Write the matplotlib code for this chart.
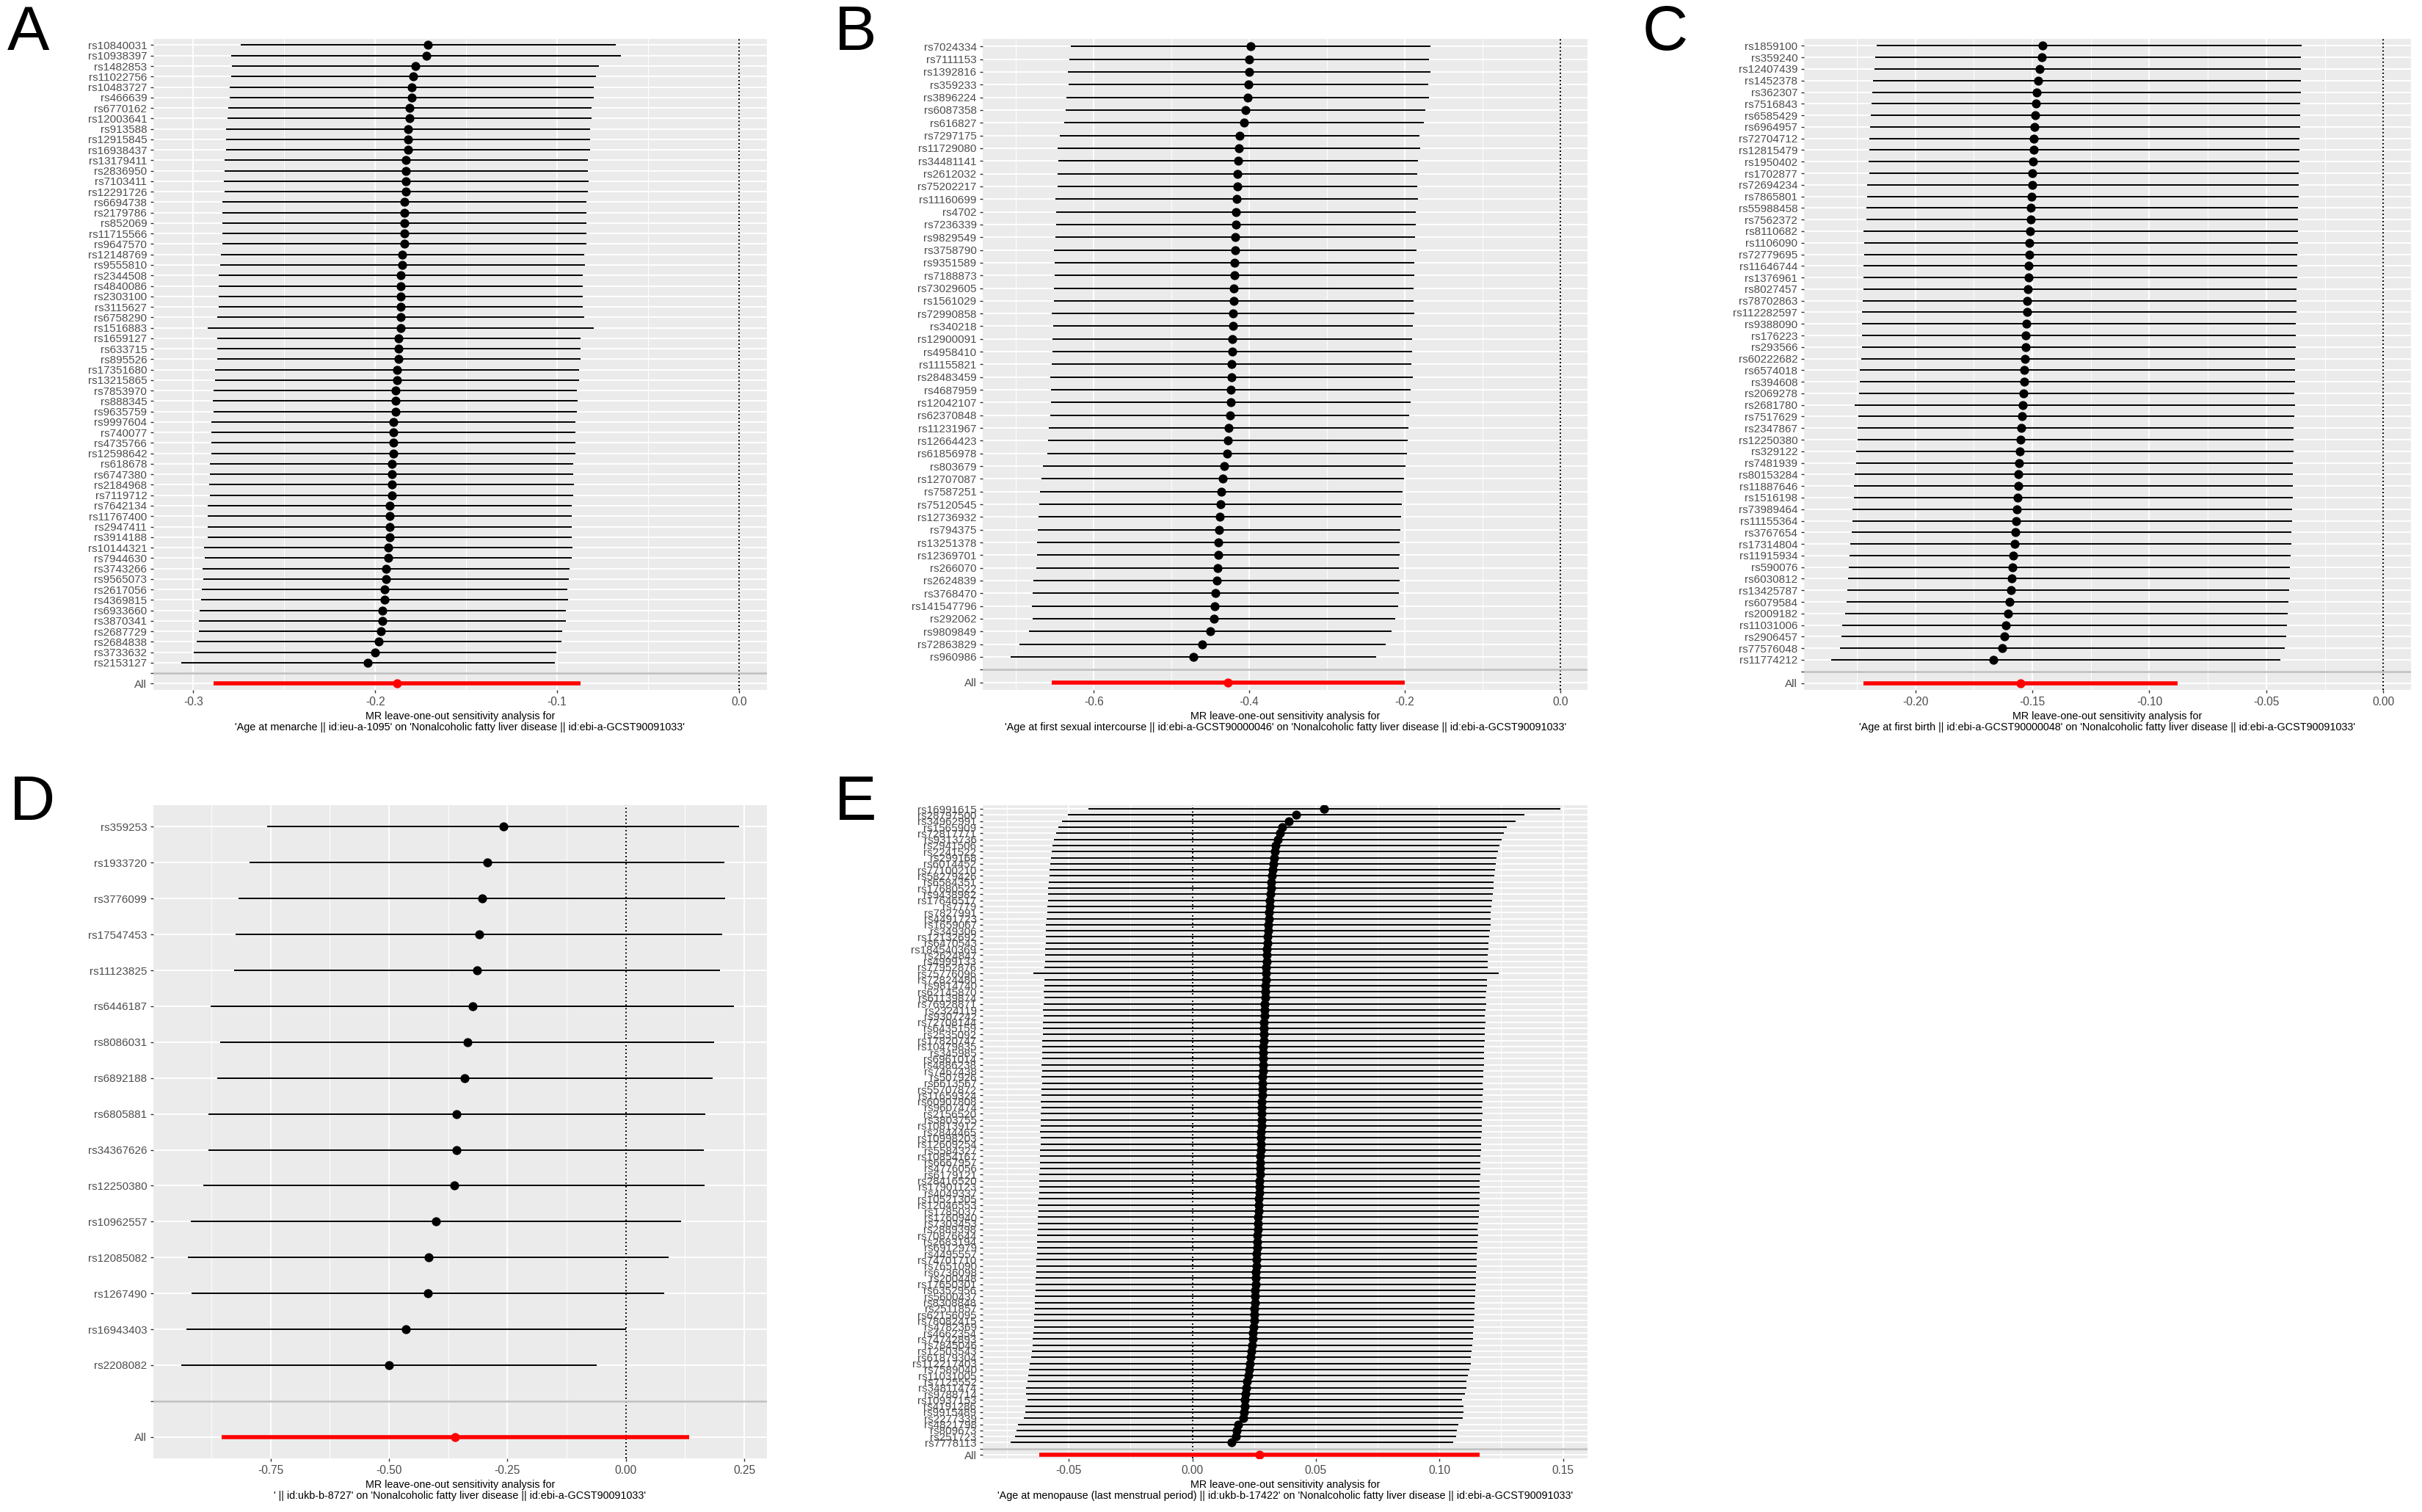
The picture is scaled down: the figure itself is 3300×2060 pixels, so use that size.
import matplotlib
matplotlib.use("Agg")
import matplotlib.pyplot as plt
from matplotlib.ticker import MultipleLocator, FuncFormatter
import numpy as np

plt.rcParams['font.family'] = ['Liberation Sans', 'DejaVu Sans']
plt.rcParams['axes.unicode_minus'] = False

outcome = "'Nonalcoholic fatty liver disease || id:ebi-a-GCST90091033'"

# ---- panel A: age at menarche (top row first) ----
exposure_a = "'Age at menarche || id:ieu-a-1095'"
snps_a = ["rs10840031", "rs10938397", "rs1482853", "rs11022756", "rs10483727", "rs466639",
          "rs6770162", "rs12003641", "rs913588", "rs12915845", "rs16938437", "rs13179411",
          "rs2836950", "rs7103411", "rs12291726", "rs6694738", "rs2179786", "rs852069",
          "rs11715566", "rs9647570", "rs12148769", "rs9555810", "rs2344508", "rs4840086",
          "rs2303100", "rs3115627", "rs6758290", "rs1516883", "rs1659127", "rs633715",
          "rs895526", "rs17351680", "rs13215865", "rs7853970", "rs888345", "rs9635759",
          "rs9997604", "rs740077", "rs4735766", "rs12598642", "rs618678", "rs6747380",
          "rs2184968", "rs7119712", "rs7642134", "rs11767400", "rs2947411", "rs3914188",
          "rs10144321", "rs7944630", "rs3743266", "rs9565073", "rs2617056", "rs4369815",
          "rs6933660", "rs3870341", "rs2687729", "rs2684838", "rs3733632", "rs2153127"]
b_a = [-0.171, -0.172, -0.178, -0.179, -0.180, -0.180, -0.181, -0.181, -0.182, -0.182,
       -0.182, -0.183, -0.183, -0.183, -0.183, -0.184, -0.184, -0.184, -0.184, -0.184,
       -0.185, -0.185, -0.186, -0.186, -0.186, -0.186, -0.186, -0.186, -0.187, -0.187,
       -0.187, -0.188, -0.188, -0.189, -0.189, -0.189, -0.190, -0.190, -0.190, -0.190,
       -0.191, -0.191, -0.191, -0.191, -0.192, -0.192, -0.192, -0.192, -0.193, -0.193,
       -0.194, -0.194, -0.195, -0.195, -0.196, -0.196, -0.197, -0.198, -0.200, -0.204]
se_a = [0.0526, 0.0546, 0.0515, 0.0512, 0.0511, 0.0511, 0.0510, 0.0511, 0.0510, 0.0510,
        0.0511, 0.0510, 0.0510, 0.0511, 0.0510, 0.0510, 0.0510, 0.0511, 0.0510, 0.0510,
        0.0510, 0.0511, 0.0510, 0.0510, 0.0510, 0.0511, 0.0515, 0.0541, 0.0510, 0.0510,
        0.0510, 0.0511, 0.0510, 0.0510, 0.0511, 0.0510, 0.0510, 0.0510, 0.0511, 0.0510,
        0.0510, 0.0510, 0.0511, 0.0510, 0.0510, 0.0510, 0.0511, 0.0510, 0.0517, 0.0515,
        0.0515, 0.0512, 0.0513, 0.0515, 0.0514, 0.0515, 0.0510, 0.0512, 0.0509, 0.0524]
all_a = (-0.188, 0.0515)

# ---- panel B: age at first sexual intercourse ----
exposure_b = "'Age at first sexual intercourse || id:ebi-a-GCST90000046'"
snps_b = ["rs7024334", "rs7111153", "rs1392816", "rs359233", "rs3896224", "rs6087358",
          "rs616827", "rs7297175", "rs11729080", "rs34481141", "rs2612032", "rs75202217",
          "rs11160699", "rs4702", "rs7236339", "rs9829549", "rs3758790", "rs9351589",
          "rs7188873", "rs73029605", "rs1561029", "rs72990858", "rs340218", "rs12900091",
          "rs4958410", "rs11155821", "rs28483459", "rs4687959", "rs12042107", "rs62370848",
          "rs11231967", "rs12664423", "rs61856978", "rs803679", "rs12707087", "rs7587251",
          "rs75120545", "rs12736932", "rs794375", "rs13251378", "rs12369701", "rs266070",
          "rs2624839", "rs3768470", "rs141547796", "rs292062", "rs9809849", "rs72863829",
          "rs960986"]
b_b = [-0.398, -0.400, -0.400, -0.401, -0.402, -0.405, -0.407, -0.412, -0.413, -0.414,
       -0.415, -0.415, -0.416, -0.417, -0.417, -0.418, -0.418, -0.419, -0.419, -0.420,
       -0.420, -0.421, -0.421, -0.422, -0.422, -0.423, -0.423, -0.424, -0.424, -0.425,
       -0.426, -0.427, -0.428, -0.432, -0.434, -0.436, -0.437, -0.438, -0.439, -0.440,
       -0.440, -0.441, -0.442, -0.443, -0.444, -0.445, -0.450, -0.460, -0.472]
se_b = [0.118, 0.118, 0.119, 0.118, 0.119, 0.118, 0.118, 0.118, 0.119, 0.118,
        0.118, 0.118, 0.119, 0.118, 0.118, 0.118, 0.119, 0.118, 0.118, 0.118,
        0.118, 0.119, 0.118, 0.118, 0.118, 0.118, 0.119, 0.118, 0.118, 0.118,
        0.118, 0.118, 0.118, 0.119, 0.119, 0.119, 0.119, 0.119, 0.119, 0.119,
        0.119, 0.119, 0.120, 0.120, 0.120, 0.119, 0.119, 0.120, 0.120]
all_b = (-0.427, 0.116)

# ---- panel C: age at first birth (interval ends read directly) ----
exposure_c = "'Age at first birth || id:ebi-a-GCST90000048'"
snps_c = ["rs1859100", "rs359240", "rs12407439", "rs1452378", "rs362307", "rs7516843",
          "rs6585429", "rs6964957", "rs72704712", "rs12815479", "rs1950402", "rs1702877",
          "rs72694234", "rs7865801", "rs55988458", "rs7562372", "rs8110682", "rs1106090",
          "rs72779695", "rs11646744", "rs1376961", "rs8027457", "rs78702863", "rs112282597",
          "rs9388090", "rs176223", "rs293566", "rs60222682", "rs6574018", "rs394608",
          "rs2069278", "rs2681780", "rs7517629", "rs2347867", "rs12250380", "rs329122",
          "rs7481939", "rs80153284", "rs11887646", "rs1516198", "rs73989464", "rs11155364",
          "rs3767654", "rs17314804", "rs11915934", "rs590076", "rs6030812", "rs13425787",
          "rs6079584", "rs2009182", "rs11031006", "rs2906457", "rs77576048", "rs11774212"]
b_c = [-0.1455, -0.1460, -0.1468, -0.1475, -0.1480, -0.1484, -0.1487, -0.1490, -0.1493,
       -0.1495, -0.1497, -0.1499, -0.1501, -0.1503, -0.1505, -0.1507, -0.1509, -0.1511,
       -0.1513, -0.1515, -0.1517, -0.1519, -0.1521, -0.1523, -0.1525, -0.1527, -0.1529,
       -0.1531, -0.1533, -0.1535, -0.1538, -0.1540, -0.1543, -0.1546, -0.1549, -0.1552,
       -0.1555, -0.1558, -0.1561, -0.1564, -0.1567, -0.1570, -0.1573, -0.1576, -0.1580,
       -0.1584, -0.1588, -0.1592, -0.1597, -0.1603, -0.1612, -0.1620, -0.1630, -0.1665]
lo_c = [-0.2165, -0.2170, -0.2175, -0.2180, -0.2183, -0.2186, -0.2189, -0.2192, -0.2195,
        -0.2197, -0.2200, -0.2195, -0.2205, -0.2205, -0.2210, -0.2210, -0.2222, -0.2218,
        -0.2218, -0.2222, -0.2222, -0.2222, -0.2225, -0.2228, -0.2228, -0.2228, -0.2228,
        -0.2231, -0.2238, -0.2238, -0.2240, -0.2259, -0.2243, -0.2248, -0.2248, -0.2252,
        -0.2254, -0.2259, -0.2262, -0.2262, -0.2267, -0.2267, -0.2273, -0.2277, -0.2280,
        -0.2285, -0.2287, -0.2289, -0.2292, -0.2300, -0.2312, -0.2316, -0.2321, -0.2358]
up_c = [-0.0350, -0.0351, -0.0352, -0.0352, -0.0353, -0.0354, -0.0355, -0.0356, -0.0357,
        -0.0358, -0.0359, -0.0360, -0.0361, -0.0362, -0.0363, -0.0364, -0.0365, -0.0366,
        -0.0367, -0.0368, -0.0369, -0.0370, -0.0371, -0.0372, -0.0373, -0.0374, -0.0375,
        -0.0376, -0.0377, -0.0378, -0.0379, -0.0376, -0.0381, -0.0382, -0.0383, -0.0384,
        -0.0385, -0.0386, -0.0387, -0.0388, -0.0389, -0.0390, -0.0392, -0.0394, -0.0396,
        -0.0398, -0.0400, -0.0402, -0.0404, -0.0407, -0.0411, -0.0415, -0.0420, -0.0440]
all_c = (-0.155, -0.222, -0.088)

# ---- panel D ----
exposure_d = "' || id:ukb-b-8727'"
snps_d = ["rs359253", "rs1933720", "rs3776099", "rs17547453", "rs11123825", "rs6446187",
          "rs8086031", "rs6892188", "rs6805881", "rs34367626", "rs12250380", "rs10962557",
          "rs12085082", "rs1267490", "rs16943403", "rs2208082"]
b_d = [-0.259, -0.293, -0.304, -0.310, -0.314, -0.324, -0.335, -0.340, -0.357, -0.358,
       -0.363, -0.401, -0.417, -0.418, -0.464, -0.500]
se_d = [0.254, 0.256, 0.262, 0.262, 0.262, 0.282, 0.266, 0.267, 0.268, 0.267,
        0.270, 0.264, 0.259, 0.255, 0.237, 0.224]
all_d = (-0.360, 0.252)

# ---- panel E: age at menopause ----
exposure_e = "'Age at menopause (last menstrual period) || id:ukb-b-17422'"
snps_e = ["rs16991615", "rs28797500", "rs34962991", "rs1565909", "rs72817771", "rs9313736",
          "rs2941506", "rs2241522", "rs299168", "rs6014452", "rs77100210", "rs58279426",
          "rs6584351", "rs17680522", "rs9438982", "rs17646517", "rs7779", "rs7827991",
          "rs4491723", "rs1659067", "rs349306", "rs12132692", "rs6470543", "rs184540369",
          "rs2624847", "rs4999133", "rs77952876", "rs75776096", "rs72824480", "rs9814740",
          "rs62145870", "rs61139874", "rs76928871", "rs2324119", "rs9307242", "rs72708144",
          "rs6435159", "rs2535092", "rs17820747", "rs10479835", "rs345985", "rs6961014",
          "rs4886238", "rs7467438", "rs507926", "rs6613567", "rs55707872", "rs11659324",
          "rs60907808", "rs9607474", "rs2156520", "rs3803755", "rs10813912", "rs2844465",
          "rs10998203", "rs12609254", "rs5584327", "rs10854167", "rs6667957", "rs4776056",
          "rs6179121", "rs28416520", "rs17901123", "rs4049337", "rs10521305", "rs12046553",
          "rs1785037", "rs1760940", "rs7303453", "rs2889398", "rs70876644", "rs2683194",
          "rs6912979", "rs4495557", "rs74701710", "rs7651090", "rs6736098", "rs200448",
          "rs17650301", "rs6352956", "rs5600437", "rs8308848", "rs2511857", "rs62156095",
          "rs78082415", "rs4782369", "rs4662354", "rs74742893", "rs7845046", "rs12503543",
          "rs61879304", "rs112217403", "rs7589040", "rs11031005", "rs7125552", "rs34811474",
          "rs9788714", "rs10937153", "rs4191286", "rs9915489", "rs2277339", "rs4821798",
          "rs809673", "rs251723", "rs7778113"]
b_e = [0.0534, 0.0420, 0.0390, 0.0365, 0.0355, 0.0345, 0.0338, 0.0333, 0.0330, 0.0327,
       0.0324, 0.0322, 0.0320, 0.0318, 0.0316, 0.0314, 0.0312, 0.0310, 0.0309, 0.0308,
       0.0306, 0.0305, 0.0304, 0.0302, 0.0301, 0.0300, 0.0299, 0.0298, 0.0297, 0.0296,
       0.0295, 0.0294, 0.0293, 0.0292, 0.0291, 0.0290, 0.0289, 0.0289, 0.0288, 0.0287,
       0.0287, 0.0286, 0.0285, 0.0285, 0.0284, 0.0283, 0.0283, 0.0282, 0.0281, 0.0281,
       0.0280, 0.0279, 0.0279, 0.0278, 0.0277, 0.0277, 0.0276, 0.0275, 0.0275, 0.0274,
       0.0273, 0.0272, 0.0272, 0.0271, 0.0270, 0.0269, 0.0268, 0.0267, 0.0266, 0.0265,
       0.0264, 0.0263, 0.0262, 0.0261, 0.0260, 0.0259, 0.0258, 0.0257, 0.0256, 0.0255,
       0.0254, 0.0253, 0.0252, 0.0251, 0.0250, 0.0248, 0.0246, 0.0244, 0.0242, 0.0240,
       0.0237, 0.0234, 0.0230, 0.0226, 0.0222, 0.0218, 0.0215, 0.0212, 0.0211, 0.0210,
       0.0205, 0.0186, 0.0180, 0.0175, 0.0159]
se_e = [0.0487, 0.0472, 0.0468, 0.0463, 0.0462, 0.0462, 0.0461, 0.0461, 0.0460, 0.0460,
        0.0460, 0.0459, 0.0459, 0.0460, 0.0459, 0.0458, 0.0459, 0.0458, 0.0458, 0.0459,
        0.0458, 0.0458, 0.0457, 0.0458, 0.0457, 0.0457, 0.0458, 0.0480, 0.0457, 0.0457,
        0.0457, 0.0456, 0.0457, 0.0457, 0.0456, 0.0457, 0.0456, 0.0456, 0.0457, 0.0456,
        0.0456, 0.0456, 0.0457, 0.0456, 0.0456, 0.0455, 0.0456, 0.0456, 0.0456, 0.0455,
        0.0456, 0.0456, 0.0455, 0.0456, 0.0455, 0.0455, 0.0456, 0.0455, 0.0455, 0.0455,
        0.0456, 0.0455, 0.0455, 0.0455, 0.0455, 0.0456, 0.0455, 0.0455, 0.0455, 0.0454,
        0.0455, 0.0455, 0.0455, 0.0454, 0.0455, 0.0455, 0.0454, 0.0455, 0.0455, 0.0454,
        0.0455, 0.0454, 0.0454, 0.0455, 0.0454, 0.0454, 0.0454, 0.0455, 0.0454, 0.0454,
        0.0454, 0.0455, 0.0454, 0.0454, 0.0453, 0.0454, 0.0453, 0.0449, 0.0452, 0.0452,
        0.0453, 0.0455, 0.0455, 0.0456, 0.0457]
all_e = (0.0271, 0.0455)


def ci(b, se):
    b = np.asarray(b)
    se = np.asarray(se)
    return b - 1.96 * se, b + 1.96 * se


def overall_ci(est):
    b, se = est
    return (b, b - 1.96 * se, b + 1.96 * se)


def fmt_tick(decimals):
    return FuncFormatter(lambda v, p: f"{round(v, decimals) + 0:.{decimals}f}")


def loo_plot(ax, snps, b, lo, up, overall, exposure, step, decimals, label_size):
    n = len(snps)
    b = np.asarray(b)
    lo = np.asarray(lo)
    up = np.asarray(up)
    ys = np.arange(n + 2, 2, -1)
    ob, olo, oup = overall

    ax.set_facecolor('#EBEBEB')
    for s in ax.spines.values():
        s.set_visible(False)

    ax.axvline(0, color='black', linestyle=(0, (1, 1.6)), linewidth=0.7, zorder=2)
    ax.hlines(ys, lo, up, color='black', linewidth=0.7, zorder=3)
    ax.plot(b, ys, 'o', color='black', markersize=3.4, zorder=4)
    ax.hlines(1, olo, oup, color='red', linewidth=2.0, zorder=3)
    ax.plot([ob], [1], 'o', color='red', markersize=3.4, zorder=4)
    ax.axhline(2, color='#BEBEBE', linewidth=0.9, zorder=2)

    xmin = min(lo.min(), olo, 0)
    xmax = max(up.max(), oup, 0)
    pad = 0.05 * (xmax - xmin)
    ax.set_xlim(xmin - pad, xmax + pad)
    ax.set_ylim(0.4, n + 2.6)

    ax.set_yticks(np.arange(1, n + 3))
    ax.set_yticklabels(["All", ""] + snps[::-1])
    ax.xaxis.set_major_locator(MultipleLocator(step))
    ax.xaxis.set_minor_locator(MultipleLocator(step / 2))
    ax.xaxis.set_major_formatter(fmt_tick(decimals))

    ax.set_axisbelow(True)
    ax.grid(which='major', color='white', linewidth=0.7)
    ax.grid(which='minor', axis='x', color='white', linewidth=0.35)
    ax.tick_params(which='minor', length=0)
    ax.tick_params(axis='both', which='major', length=1.6, width=0.5, color='#333333',
                   labelcolor='#4D4D4D', pad=1.5)
    ax.tick_params(axis='y', labelsize=label_size)
    ax.tick_params(axis='x', labelsize=5.6)

    ax.set_xlabel("MR leave-one-out sensitivity analysis for\n" + exposure + " on " + outcome,
                  fontsize=5.2, linespacing=1.05, labelpad=2)


fig = plt.figure(figsize=(16.5, 10.3), dpi=200)

lo_a, up_a = ci(b_a, se_a)
lo_b, up_b = ci(b_b, se_b)
lo_d, up_d = ci(b_d, se_d)
lo_e, up_e = ci(b_e, se_e)

panels = [
    ("A", snps_a, b_a, lo_a, up_a, overall_ci(all_a), exposure_a, 0.1, 1,
     [0.0633, 0.5437, 0.2533, 0.4306], (0.003, 0.997)),
    ("B", snps_b, b_b, lo_b, up_b, overall_ci(all_b), exposure_b, 0.2, 1,
     [0.4058, 0.5437, 0.2497, 0.4306], (0.3445, 0.997)),
    ("C", snps_c, b_c, lo_c, up_c, all_c, exposure_c, 0.05, 2,
     [0.7448, 0.5437, 0.2506, 0.4306], (0.678, 0.997)),
    ("D", snps_d, b_d, lo_d, up_d, overall_ci(all_d), exposure_d, 0.25, 2,
     [0.0633, 0.0354, 0.2533, 0.4320], (0.004, 0.488)),
    ("E", snps_e, b_e, lo_e, up_e, overall_ci(all_e), exposure_e, 0.05, 2,
     [0.4058, 0.0354, 0.2497, 0.4320], (0.3445, 0.488)),
]

for letter, snps, b, lo, up, overall, exposure, step, dec, rect, lpos in panels:
    ax = fig.add_axes(rect)
    loo_plot(ax, snps, b, lo, up, overall, exposure, step, dec, 5.5)
    fig.text(lpos[0], lpos[1], letter, fontsize=31, ha='left', va='top', color='black')

fig.savefig("out.png", dpi=200, facecolor='white')
